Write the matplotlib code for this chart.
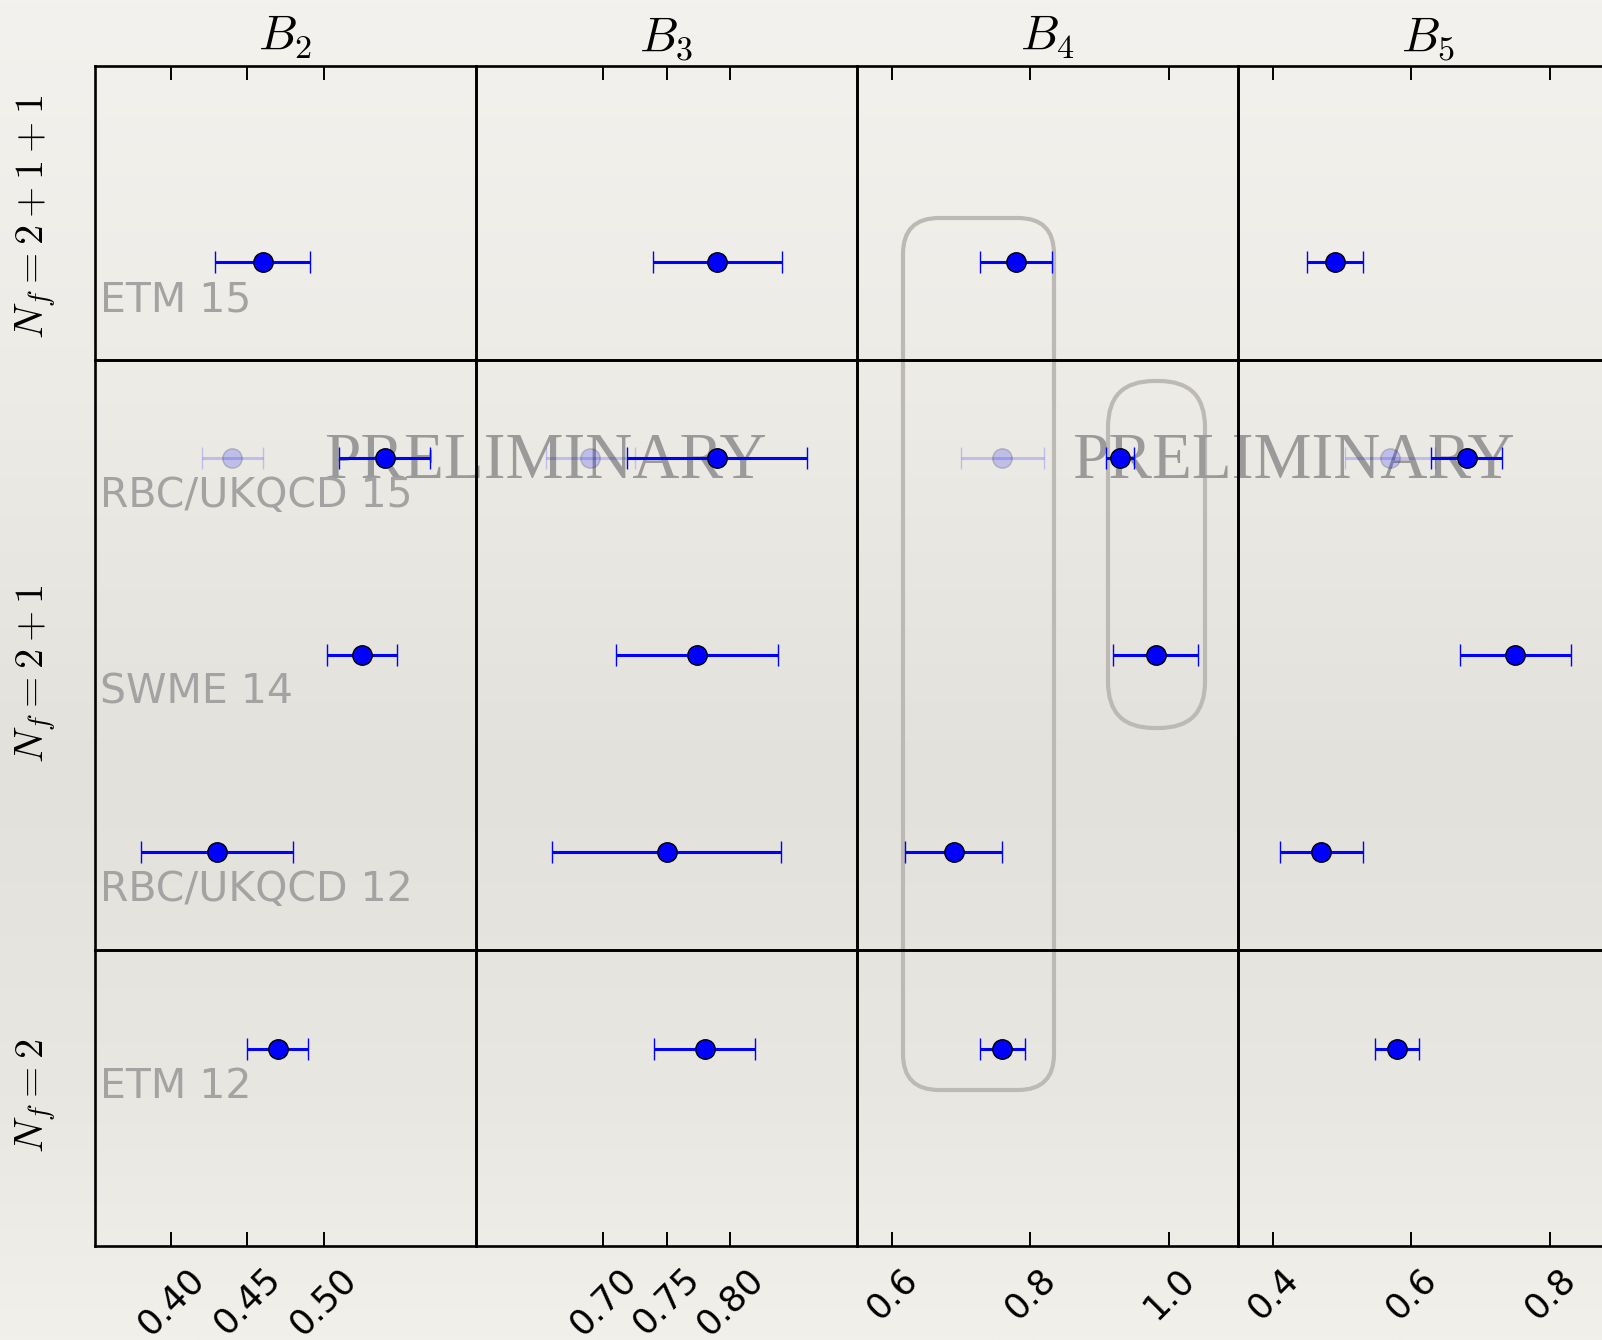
import numpy as np
import matplotlib
matplotlib.use("Agg")
import matplotlib.pyplot as plt
from matplotlib.patches import FancyBboxPatch
from matplotlib.transforms import offset_copy

plt.rcParams['mathtext.fontset'] = 'cm'
plt.rcParams['font.family'] = ['DejaVu Sans']

# ---------------------------------------------------------------- data
params = ["$B_2$", "$B_3$", "$B_4$", "$B_5$"]
studies = ["ETM 15", "RBC/UKQCD 15", "SWME 14", "RBC/UKQCD 12", "ETM 12"]
study_group = [0, 1, 1, 1, 2]
groups = ["$N_f=2+1+1$", "$N_f=2+1$", "$N_f=2$"]

# bag parameters per study (same order as `studies`)
b2_val = [0.46, 0.54, 0.525, 0.43, 0.47]
b2_err = [0.031, 0.030, 0.023, 0.05, 0.02]
b3_val = [0.79, 0.79, 0.774, 0.75, 0.78]
b3_err = [0.051, 0.071, 0.064, 0.09, 0.04]
b4_val = [0.78, 0.93, 0.981, 0.69, 0.76]
b4_err = [0.052, 0.02, 0.061, 0.07, 0.033]
b5_val = [0.49, 0.68, 0.75, 0.47, 0.58]
b5_err = [0.041, 0.051, 0.08, 0.06, 0.032]

# RBC/UKQCD 15, alternative intermediate scheme (faded points)
rbc15_alt_val = [0.44, 0.69, 0.76, 0.57]
rbc15_alt_err = [0.02, 0.035, 0.06, 0.065]

values = [b2_val, b3_val, b4_val, b5_val]
errors = [b2_err, b3_err, b4_err, b5_err]

x_limits = [(0.35, 0.60), (0.60, 0.90), (0.55, 1.10), (0.35, 0.90)]
x_ticks = [[0.40, 0.45, 0.50], [0.70, 0.75, 0.80], [0.6, 0.8, 1.0], [0.4, 0.6, 0.8]]
x_ticklabels = [["0.40", "0.45", "0.50"], ["0.70", "0.75", "0.80"],
                ["0.6", "0.8", "1.0"], ["0.4", "0.6", "0.8"]]

# ---------------------------------------------------------------- layout
W, H = 1602, 1340
fig = plt.figure(figsize=(W / 100, H / 100), dpi=100)

# background (paper-like shading) on a full-figure pixel canvas
bg = fig.add_axes([0, 0, 1, 1], zorder=-1)
bg.set_xlim(0, W)
bg.set_ylim(H, 0)
bg.axis('off')
yy = np.linspace(0, 1, 200)
stops = [0.0, 0.3, 0.58, 0.82, 1.0]
rgb = np.array([[244, 242, 238], [237, 235, 230], [227, 225, 220],
                [233, 231, 226], [242, 240, 235]]) / 255.0
shade = np.stack([np.interp(yy, stops, rgb[:, k]) for k in range(3)], axis=-1)
shade = np.repeat(shade[:, None, :], 4, axis=1)
bg.imshow(shade, extent=(0, W, H, 0), aspect='auto', interpolation='bilinear')

# highlight boxes
for (x0, y0, x1, y1, r) in [(903, 218, 1054, 1090, 36), (1108, 381, 1205, 728, 46)]:
    bg.add_patch(FancyBboxPatch((x0, y0), x1 - x0, y1 - y0,
                                boxstyle=f"round,pad=0,rounding_size={r}",
                                fill=False, ec='#bdbab5', lw=3.0))

# watermark text
for xc in (545, 1293):
    bg.text(xc, 478, "PRELIMINARY", family='Liberation Serif', fontsize=47,
            color='#9a9a9a', ha='center', va='baseline')

left_px, col_w = 95, 381
row_edges = [66, 360, 950, 1246]
group_ylim = [(0, 1.5), (0, 3.0), (0, 1.5)]
study_y = [0.5, 2.5, 1.5, 0.5, 1.0]
row_label_y = [217, 674, 1096]

for c in range(4):
    for g in range(3):
        x0 = left_px + c * col_w
        y0, y1 = row_edges[g], row_edges[g + 1]
        ax = fig.add_axes([x0 / W, 1 - y1 / H, col_w / W, (y1 - y0) / H])
        ax.set_facecolor('none')
        ax.set_xlim(*x_limits[c])
        ax.set_ylim(*group_ylim[g])
        ax.set_yticks([])
        for sp in ax.spines.values():
            sp.set_linewidth(1.9)
            sp.set_color('black')
        ax.set_xticks(x_ticks[c])
        ax.tick_params(axis='x', direction='in', length=10, width=1.4,
                       top=(g == 0), bottom=(g == 2),
                       labeltop=False, labelbottom=(g == 2),
                       labelsize=25.5, pad=11)
        if g == 2:
            ax.set_xticklabels(x_ticklabels[c], rotation=45, ha='center')
        else:
            ax.set_xticklabels([])

        for s, name in enumerate(studies):
            if study_group[s] != g:
                continue
            y = study_y[s]
            if name == "RBC/UKQCD 15":
                ax.errorbar(rbc15_alt_val[c], y, xerr=rbc15_alt_err[c], fmt='o',
                            color='blue', ms=14, mec='k', mew=1.0, elinewidth=2.2,
                            capsize=8, capthick=1.5, alpha=0.18, clip_on=False)
            ax.errorbar(values[c][s], y, xerr=errors[c][s], fmt='o',
                        color='blue', ms=14, mec='k', mew=1.0, elinewidth=2.2,
                        capsize=8, capthick=1.5, clip_on=False, zorder=5)
            if c == 0:
                ax.annotate(name, xy=(0, y), xycoords=('axes fraction', 'data'),
                            xytext=(5, -49), textcoords='offset pixels',
                            ha='left', va='baseline', fontsize=29.5, color='#a3a3a3')

        if g == 0:
            ax.text(0.5, 1.0, params[c],
                    transform=offset_copy(ax.transAxes, fig=fig, y=15, units='dots'),
                    ha='center', va='baseline', fontsize=35)

for g in range(3):
    fig.text(36 / W, 1 - row_label_y[g] / H, groups[g], rotation=90,
             ha='center', va='center', fontsize=29)

fig.savefig("out.png", dpi=100)
